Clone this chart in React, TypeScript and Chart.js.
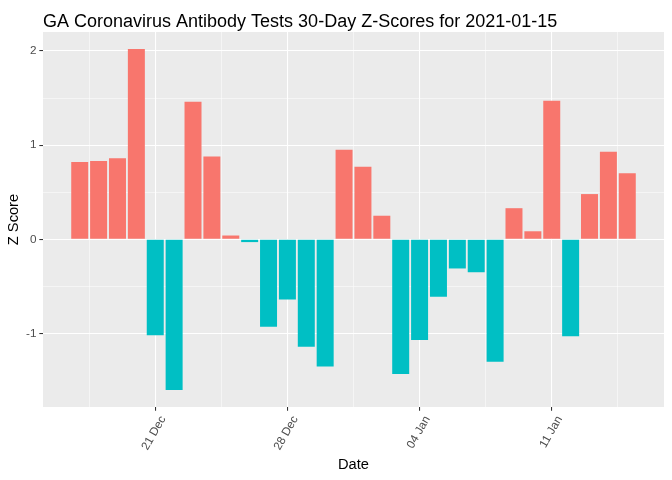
import React, { useEffect, useRef } from "react";
import { Chart, registerables } from "chart.js";

Chart.register(...registerables);

const chartTitle = "GA Coronavirus Antibody Tests 30-Day Z-Scores for 2021-01-15";
const xAxisTitle = "Date";
const yAxisTitle = "Z Score";

const dates = [
  "2020-12-17", "2020-12-18", "2020-12-19", "2020-12-20", "2020-12-21",
  "2020-12-22", "2020-12-23", "2020-12-24", "2020-12-25", "2020-12-26",
  "2020-12-27", "2020-12-28", "2020-12-29", "2020-12-30", "2020-12-31",
  "2021-01-01", "2021-01-02", "2021-01-03", "2021-01-04", "2021-01-05",
  "2021-01-06", "2021-01-07", "2021-01-08", "2021-01-09", "2021-01-10",
  "2021-01-11", "2021-01-12", "2021-01-13", "2021-01-14", "2021-01-15",
];

const zScores = [
  0.82, 0.83, 0.86, 2.02, -1.02,
  -1.6, 1.46, 0.88, 0.04, -0.03,
  -0.93, -0.64, -1.14, -1.35, 0.95,
  0.77, 0.25, -1.43, -1.07, -0.61,
  -0.31, -0.35, -1.3, 0.33, 0.085,
  1.47, -1.03, 0.48, 0.93, 0.7,
];

const xTickDates = ["2020-12-21", "2020-12-28", "2021-01-04", "2021-01-11"];
const xTickLabels = ["21 Dec", "28 Dec", "04 Jan", "11 Jan"];
const yTickValues = [-1, 0, 1, 2];
const yTickLabels = ["-1", "0", "1", "2"];

const POS_COLOR = "#F8766D";
const NEG_COLOR = "#00BFC4";
const FONT_FAMILY = '"Liberation Sans", Arial, Helvetica, sans-serif';

export default function App() {
  const canvasRef = useRef<HTMLCanvasElement | null>(null);

  useEffect(() => {
    const canvas = canvasRef.current;
    if (!canvas) return;

    const n = dates.length;
    const xMajor = xTickDates.map((d) => dates.indexOf(d));
    const step = xMajor.length > 1 ? xMajor[1] - xMajor[0] : 7;
    const xMinor = xMajor.map((m) => m - step / 2).concat([xMajor[xMajor.length - 1] + step / 2]);
    const xAll = [...xMinor, ...xMajor].sort((a, b) => a - b);

    const xLo = -0.45;
    const xHi = n - 1 + 0.45;
    const xExp = (xHi - xLo) * 0.05;

    const yLoData = Math.min(0, ...zScores);
    const yHiData = Math.max(0, ...zScores);
    const yExp = (yHiData - yLoData) * 0.05;
    const yMinor = yTickValues.slice(0, -1).map((v, i) => (v + yTickValues[i + 1]) / 2);
    const yAll = [...yTickValues, ...yMinor].sort((a, b) => a - b);

    const isXMajor = (v: number) => xMajor.indexOf(v) >= 0;
    const isYMajor = (v: number) => yTickValues.indexOf(v) >= 0;

    const panelBg = {
      id: "panelBg",
      beforeDraw(chart: any) {
        const { ctx, chartArea } = chart;
        ctx.save();
        ctx.fillStyle = "#EBEBEB";
        ctx.fillRect(chartArea.left, chartArea.top, chartArea.right - chartArea.left, chartArea.bottom - chartArea.top);
        ctx.restore();
      },
    };

    const ggTitle = {
      id: "ggTitle",
      afterDraw(chart: any) {
        const { ctx, chartArea } = chart;
        ctx.save();
        ctx.font = `18px ${FONT_FAMILY}`;
        ctx.fillStyle = "#000000";
        ctx.textAlign = "left";
        ctx.textBaseline = "alphabetic";
        ctx.fillText(chartTitle, chartArea.left, 27);
        ctx.restore();
      },
    };

    const chart = new Chart(canvas, {
      type: "bar",
      data: {
        datasets: [
          {
            data: dates.map((d, i) => ({ x: i, y: zScores[i] })),
            backgroundColor: zScores.map((v) => (v >= 0 ? POS_COLOR : NEG_COLOR)),
            borderWidth: 0,
            barPercentage: 0.9,
            categoryPercentage: 1,
          },
        ],
      },
      options: {
        responsive: false,
        animation: false,
        layout: { padding: { left: 0, right: 8, top: 32, bottom: 0 } },
        plugins: {
          legend: { display: false },
          title: { display: false },
          tooltip: { enabled: false },
        },
        scales: {
          x: {
            type: "linear",
            min: xLo - xExp,
            max: xHi + xExp,
            offset: false,
            border: { display: false },
            grid: {
              offset: false,
              color: "#FFFFFF",
              lineWidth: (ctx: any) => (ctx.tick && isXMajor(ctx.tick.value) ? 1.07 : 0.53),
              tickColor: (ctx: any) => (ctx.tick && isXMajor(ctx.tick.value) ? "#333333" : "rgba(0,0,0,0)"),
              tickWidth: 1.07,
              tickLength: 3.67,
            },
            ticks: {
              autoSkip: false,
              minRotation: 60,
              maxRotation: 60,
              padding: 2.9,
              labelOffset: 8,
              color: "#4D4D4D",
              font: { family: FONT_FAMILY, size: 11.73 },
              callback: (value: any) => {
                const idx = xMajor.indexOf(Number(value));
                return idx >= 0 ? xTickLabels[idx] : "";
              },
            },
            afterBuildTicks: (scale: any) => {
              scale.ticks = xAll.map((v) => ({ value: v }));
            },
            afterFit: (scale: any) => {
              scale.height = 73;
            },
            title: {
              display: true,
              text: xAxisTitle,
              color: "#000000",
              font: { family: FONT_FAMILY, size: 14.67 },
              padding: { top: 0, bottom: 6 },
            },
          },
          y: {
            type: "linear",
            min: yLoData - yExp,
            max: yHiData + yExp,
            border: { display: false },
            grid: {
              color: "#FFFFFF",
              lineWidth: (ctx: any) => (ctx.tick && isYMajor(ctx.tick.value) ? 1.07 : 0.53),
              tickColor: (ctx: any) => (ctx.tick && isYMajor(ctx.tick.value) ? "#333333" : "rgba(0,0,0,0)"),
              tickWidth: 1.07,
              tickLength: 3.67,
            },
            ticks: {
              autoSkip: false,
              padding: 2.9,
              color: "#4D4D4D",
              font: { family: FONT_FAMILY, size: 11.73 },
              callback: (value: any) => {
                const idx = yTickValues.indexOf(Number(value));
                return idx >= 0 ? yTickLabels[idx] : "";
              },
            },
            afterBuildTicks: (scale: any) => {
              scale.ticks = yAll.map((v) => ({ value: v }));
            },
            afterFit: (scale: any) => {
              scale.width = 43;
            },
            title: {
              display: true,
              text: yAxisTitle,
              color: "#000000",
              font: { family: FONT_FAMILY, size: 14.67 },
              padding: { top: 5, bottom: 0 },
            },
          },
        },
      },
      plugins: [panelBg, ggTitle],
    } as any);

    return () => {
      chart.destroy();
    };
  }, []);

  return (
    <div style={{ position: "fixed", left: 0, top: 0, width: 672, height: 480, background: "#FFFFFF" }}>
      <canvas ref={canvasRef} width={672} height={480} style={{ width: 672, height: 480, display: "block" }} />
    </div>
  );
}
